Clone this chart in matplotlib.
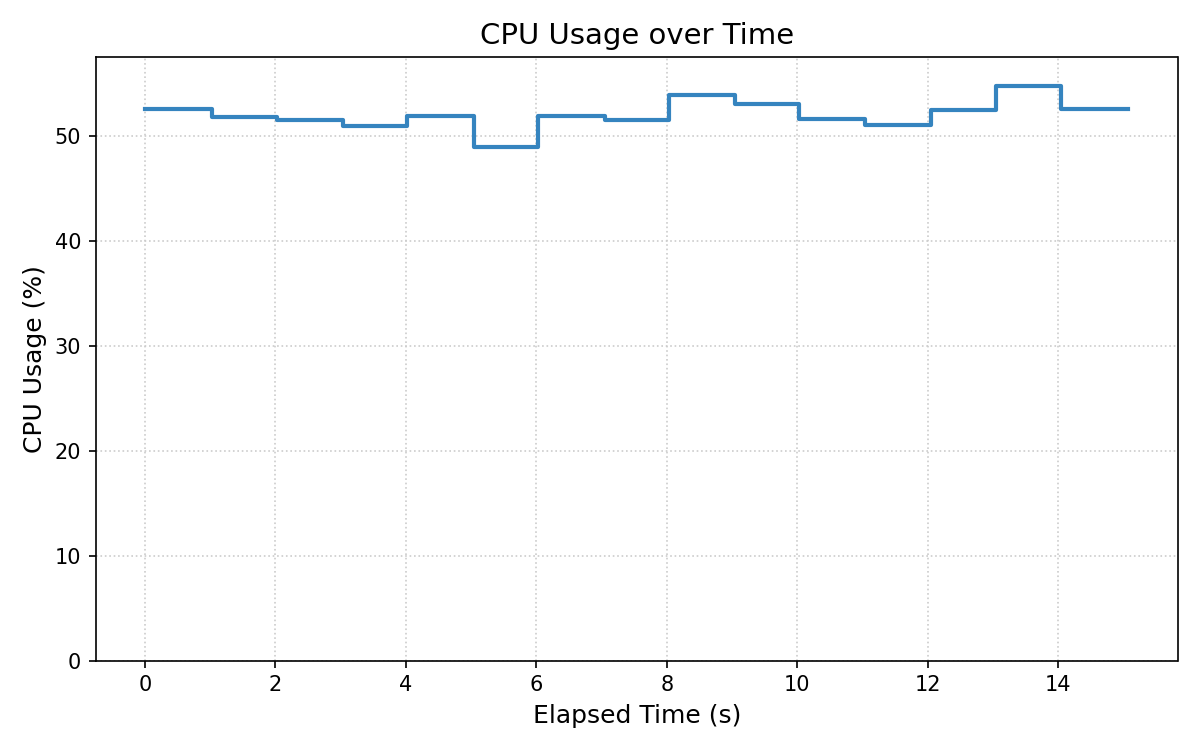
import matplotlib
matplotlib.use("Agg")
import matplotlib.pyplot as plt

elapsed_s = [0.0, 1.02, 2.02, 3.03, 4.01, 5.04, 6.03, 7.05, 8.03, 9.05,
             10.03, 11.04, 12.05, 13.05, 14.05, 15.08]
cpu_pct = [52.6, 51.8, 51.5, 51.0, 51.9, 49.0, 51.9, 51.5, 53.9, 53.1,
           51.6, 51.1, 52.5, 54.8, 52.6, 52.6]

fig, ax = plt.subplots(figsize=(8, 5), dpi=150)
ax.step(elapsed_s, cpu_pct, where="post", color="#3584bf", linewidth=2)
ax.set_ylim(0, max(cpu_pct) * 1.05)
ax.set_title("CPU Usage over Time", fontsize=14)
ax.set_xlabel("Elapsed Time (s)", fontsize=12)
ax.set_ylabel("CPU Usage (%)", fontsize=12)
ax.grid(True, linestyle=":", color="#cccccc", linewidth=0.8)
fig.tight_layout()
fig.savefig("out.png", dpi=150)
